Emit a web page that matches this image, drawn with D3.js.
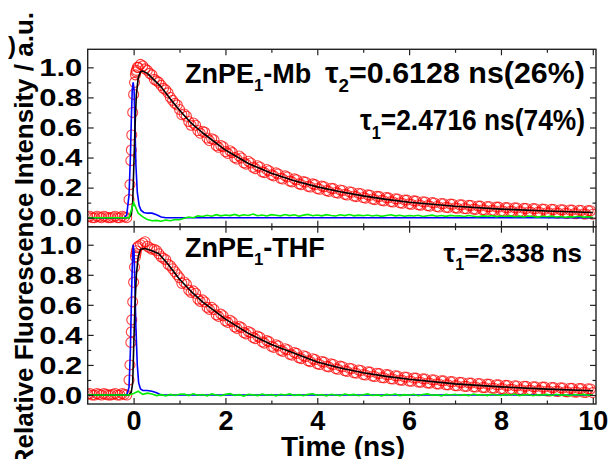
<!DOCTYPE html>
<html>
<head>
<meta charset="utf-8">
<script src="https://cdn.jsdelivr.net/npm/d3@7"></script>
<style>
body { margin: 0; background: #fff; }
text { font-family: "Liberation Sans", Arial, sans-serif; font-weight: bold; fill: #000; }
</style>
</head>
<body>
<div id="graph"></div>
<script>
// sample grids of the decay traces (ns)
var gridT = d3.range(111).map(i => Math.round((-1 + i / 10) * 100) / 100)     // -1.0 ... 10.0
var halfT = d3.range(110).map(i => Math.round((-0.95 + i / 10) * 100) / 100)  // -0.95 ... 9.95
var edgeT = [-0.08, -0.06, -0.04, -0.02, 0.02, 0.04, 0.06, 0.08]

// ZnPE1-Mb (top)
var redMb = [
  0.005, 0, 0.01, 0, 0.005, 0, 0.01, 0, 0.005, 0.12, 0.82,
  1.00, 1.01, 0.98, 0.95, 0.91, 0.88, 0.85, 0.80, 0.76, 0.72,
  0.69, 0.64, 0.63, 0.58, 0.575, 0.53, 0.525, 0.48, 0.48, 0.44,
  0.445, 0.40, 0.41, 0.365, 0.375, 0.335, 0.345, 0.305, 0.32, 0.285,
  0.298, 0.262, 0.278, 0.243, 0.258, 0.225, 0.24, 0.208, 0.225, 0.194,
  0.21, 0.18, 0.196, 0.167, 0.184, 0.155, 0.172, 0.144, 0.162, 0.134,
  0.152, 0.124, 0.142, 0.115, 0.134, 0.107, 0.126, 0.099, 0.118, 0.092,
  0.112, 0.086, 0.106, 0.08, 0.1, 0.074, 0.094, 0.069, 0.09, 0.065,
  0.086, 0.061, 0.082, 0.057, 0.078, 0.053, 0.074, 0.049, 0.07, 0.046,
  0.067, 0.043, 0.065, 0.04, 0.062, 0.038, 0.06, 0.035, 0.057, 0.033,
  0.055, 0.031, 0.053, 0.029, 0.051, 0.027, 0.049, 0.025, 0.047, 0.023
]
var redMbHalf = [
  0.01, 0, 0.005, 0.01, 0, 0.005, 0, 0.01, 0, 0.45,
  0.97, 1.02, 0.99, 0.96, 0.92, 0.90, 0.86, 0.83, 0.78, 0.75,
  0.685, 0.675, 0.615, 0.615, 0.562, 0.568, 0.513, 0.518, 0.468, 0.472,
  0.428, 0.433, 0.39, 0.397, 0.356, 0.364, 0.326, 0.337, 0.3, 0.312,
  0.278, 0.291, 0.257, 0.271, 0.238, 0.252, 0.22, 0.236, 0.204, 0.22,
  0.189, 0.206, 0.175, 0.193, 0.163, 0.181, 0.151, 0.169, 0.14, 0.159,
  0.13, 0.149, 0.12, 0.14, 0.112, 0.132, 0.104, 0.124, 0.096, 0.117,
  0.089, 0.11, 0.083, 0.104, 0.077, 0.098, 0.071, 0.093, 0.067, 0.089,
  0.063, 0.085, 0.059, 0.081, 0.055, 0.077, 0.051, 0.073, 0.047, 0.07,
  0.044, 0.066, 0.042, 0.064, 0.039, 0.061, 0.037, 0.059, 0.034, 0.056,
  0.032, 0.054, 0.03, 0.052, 0.028, 0.05, 0.026, 0.048, 0.024, 0.046
]
var edgeMb = [0.22, 0.38, 0.55, 0.7, 0.9, 0.95, 0.98, 1.0]
var greenMb = [
  0, 0, 0, 0, 0, 0, 0, 0, 0, 0, 0.10,
  0.03, 0.005, -0.012, -0.02, -0.018, -0.024, -0.016, -0.02, -0.012, -0.014,
  -0.004, 0.004, 0, 0.012, 0.008, 0.016, 0.01, 0.02, 0.012, 0.018,
  0.014, 0.022, 0.012, 0.019, 0.015, 0.024, 0.013, 0.018, 0.011, 0.02,
  0.016, 0.012, 0.021, 0.014, 0.019, 0.01, 0.017, 0.022, 0.013, 0.018,
  0.012, 0.02, 0.015, 0.011, 0.019, 0.014, 0.021, 0.012, 0.017, 0.013,
  0.018, 0.011, 0.016, 0.009, 0.015, 0.019, 0.012, 0.016, 0.01, 0.014,
  0.011, 0.016, 0.008, 0.013, 0.017, 0.01, 0.014, 0.009, 0.015, 0.011,
  0.013, 0.008, 0.014, 0.01, 0.006, 0.012, 0.009, 0.013, 0.007, 0.011,
  0.008, 0.012, 0.006, 0.01, 0.005, 0.011, 0.008, 0.004, 0.009, 0.006,
  0.01, 0.005, 0.008, 0.003, 0.007, 0.005, 0.009, 0.004, 0.006, 0.003
]
var fitMbT = [-1, -0.1, -0.05, -0.02, 0, 0.03, 0.06, 0.1, 0.15, 0.2, 0.3, 0.45, 0.6, 0.8, 1.0, 1.25, 1.5, 2.0, 2.5, 3.0, 3.5, 4.0, 4.5, 5.0, 5.5, 6.0, 7.0, 8.0, 9.0, 10.0]
var fitMb = [0, 0, 0.02, 0.1, 0.3, 0.6, 0.82, 0.93, 0.97, 0.975, 0.96, 0.915, 0.87, 0.79, 0.715, 0.63, 0.565, 0.45, 0.36, 0.295, 0.245, 0.205, 0.172, 0.145, 0.122, 0.103, 0.076, 0.057, 0.044, 0.034]
var irfMbT = [-1, -0.2, -0.15, -0.1, -0.07, -0.05, -0.03, -0.01, 0.01, 0.03, 0.05, 0.08, 0.12, 0.16, 0.22, 0.3, 0.4, 0.5, 0.6, 0.7, 10]
var irfMb = [0, 0, 0.02, 0.15, 0.4, 0.65, 0.85, 0.9, 0.85, 0.6, 0.35, 0.17, 0.08, 0.05, 0.035, 0.03, 0.03, 0.02, 0.005, 0, 0]

// ZnPE1-THF (bottom)
var redThf = [
  0.005, 0, 0.01, 0, 0.005, 0, 0.01, 0, 0.005, 0.1, 0.75,
  0.99, 1.01, 0.99, 0.97, 0.96, 0.92, 0.90, 0.86, 0.82, 0.78,
  0.752, 0.698, 0.693, 0.638, 0.633, 0.583, 0.583, 0.533, 0.538, 0.493,
  0.497, 0.453, 0.457, 0.416, 0.422, 0.383, 0.392, 0.353, 0.362, 0.324,
  0.334, 0.297, 0.308, 0.271, 0.283, 0.248, 0.261, 0.227, 0.241, 0.208,
  0.223, 0.191, 0.207, 0.175, 0.192, 0.161, 0.178, 0.148, 0.166, 0.136,
  0.155, 0.126, 0.145, 0.116, 0.136, 0.108, 0.128, 0.1, 0.12, 0.093,
  0.113, 0.086, 0.107, 0.08, 0.101, 0.074, 0.095, 0.068, 0.089, 0.062,
  0.084, 0.058, 0.08, 0.054, 0.076, 0.05, 0.072, 0.046, 0.068, 0.042,
  0.064, 0.038, 0.061, 0.035, 0.058, 0.032, 0.055, 0.029, 0.052, 0.027,
  0.05, 0.025, 0.047, 0.022, 0.045, 0.02, 0.043, 0.018, 0.041, 0.016
]
var redThfHalf = [
  0.01, 0, 0.005, 0.01, 0, 0.005, 0, 0.01, 0, 0.42,
  0.94, 1.0, 1.02, 0.98, 0.97, 0.94, 0.91, 0.87, 0.84, 0.80,
  0.743, 0.737, 0.683, 0.677, 0.623, 0.619, 0.57, 0.569, 0.523, 0.527,
  0.483, 0.487, 0.443, 0.448, 0.407, 0.414, 0.375, 0.384, 0.345, 0.355,
  0.317, 0.327, 0.29, 0.301, 0.265, 0.277, 0.242, 0.256, 0.222, 0.236,
  0.203, 0.219, 0.187, 0.203, 0.171, 0.188, 0.157, 0.175, 0.145, 0.163,
  0.133, 0.152, 0.123, 0.142, 0.114, 0.134, 0.106, 0.126, 0.098, 0.118,
  0.091, 0.112, 0.085, 0.106, 0.079, 0.1, 0.073, 0.094, 0.067, 0.088,
  0.061, 0.083, 0.057, 0.079, 0.053, 0.075, 0.049, 0.071, 0.045, 0.067,
  0.041, 0.063, 0.038, 0.06, 0.035, 0.057, 0.032, 0.054, 0.029, 0.052,
  0.026, 0.049, 0.024, 0.046, 0.021, 0.044, 0.019, 0.042, 0.017, 0.04
]
var edgeThf = [0.2, 0.35, 0.5, 0.62, 0.85, 0.92, 0.96, 0.98]
var greenThf = [
  0, 0, 0, 0, 0, 0, 0, 0, 0, 0, 0.01,
  0.025, 0.004, 0.012, 0.006, -0.004, 0.002, -0.006, 0.004, -0.003, 0.005,
  0.006, -0.004, 0.008, -0.002, 0.003, -0.006, 0.007, 0, -0.005, 0.004,
  0.009, -0.003, 0.002, -0.007, 0.005, 0.001, -0.004, 0.006, -0.002, 0.003,
  -0.006, 0.005, 0, 0.007, -0.003, 0.002, -0.005, 0.004, 0.008, -0.002,
  0.003, -0.006, 0.005, 0, -0.004, 0.006, -0.001, 0.004, -0.005, 0.002,
  0.007, -0.003, 0.001, -0.006, 0.004, 0, 0.006, -0.004, 0.002, -0.002,
  0.005, -0.005, 0.003, 0.007, -0.002, 0.001, -0.006, 0.004, 0, 0.005,
  -0.003, 0.002, -0.005, 0.006, -0.001, 0.003, -0.004, 0.005, 0, -0.003,
  0.004, -0.002, 0.006, -0.004, 0.001, 0.003, -0.005, 0.002, 0, 0.004,
  -0.003, 0.005, -0.001, 0.002, -0.004, 0.003, 0, 0.004, -0.002, 0.001
]
var fitThfT = [-1, -0.1, -0.05, -0.02, 0, 0.03, 0.06, 0.1, 0.15, 0.25, 0.4, 0.55, 0.75, 1.0, 1.25, 1.5, 2.0, 2.5, 3.0, 3.5, 4.0, 4.5, 5.0, 5.5, 6.0, 7.0, 8.0, 9.0, 10.0]
var fitThf = [0, 0, 0.02, 0.08, 0.3, 0.6, 0.8, 0.92, 0.97, 0.975, 0.96, 0.94, 0.87, 0.77, 0.69, 0.62, 0.505, 0.41, 0.336, 0.277, 0.22, 0.18, 0.148, 0.124, 0.105, 0.074, 0.054, 0.039, 0.028]
var irfThfT = [-1, -0.15, -0.1, -0.07, -0.05, -0.03, -0.01, 0.01, 0.03, 0.05, 0.08, 0.11, 0.15, 0.2, 0.3, 0.4, 0.5, 0.6, 10]
var irfThf = [0, 0, 0.05, 0.3, 0.6, 0.85, 1.0, 0.95, 0.7, 0.45, 0.2, 0.08, 0.04, 0.03, 0.03, 0.025, 0.015, 0, 0]

var xMajor = [0, 2, 4, 6, 8, 10]
var xMinor = [1, 3, 5, 7, 9]
var yMajor = [0, 0.2, 0.4, 0.6, 0.8, 1.0]
var yMinor = [0.1, 0.3, 0.5, 0.7, 0.9]

var width = 612, height = 459
var left = 87.7, right = 596
var svg = d3.select('#graph').append('svg')
  .attr('width', width).attr('height', height)

var x = d3.scaleLinear().domain([-1, 10.07]).range([left, right])

var panels = [
  {id: 'mb', top: 49.3, bottom: 226.7, red: redMb, half: redMbHalf, edge: edgeMb, green: greenMb,
   fitT: fitMbT, fit: fitMb, irfT: irfMbT, irf: irfMb, labels: false},
  {id: 'thf', top: 226.7, bottom: 404, red: redThf, half: redThfHalf, edge: edgeThf, green: greenThf,
   fitT: fitThfT, fit: fitThf, irfT: irfThfT, irf: irfThf, labels: true}
]

panels.forEach(p => {
  var y = d3.scaleLinear().domain([-0.06, 1.12]).range([p.bottom, p.top])
  var g = svg.append('g')

  g.append('clipPath').attr('id', 'clip-' + p.id)
    .append('rect')
    .attr('x', left).attr('y', p.top)
    .attr('width', right - left).attr('height', p.bottom - p.top)

  var plot = g.append('g').attr('clip-path', `url(#clip-${p.id})`)
  var line = d3.line().x(d => x(d[0])).y(d => y(d[1]))

  var pts = gridT.map((t, i) => [t, p.red[i]])
    .concat(halfT.map((t, i) => [t, p.half[i]]))
    .concat(edgeT.map((t, i) => [t, p.edge[i]]))

  plot.selectAll('circle').data(pts).join('circle')
    .attr('cx', d => x(d[0])).attr('cy', d => y(d[1])).attr('r', 5)
    .attr('fill', 'none').attr('stroke', '#ff0000')
    .attr('stroke-opacity', 0.75).attr('stroke-width', 1.1)

  plot.append('path')
    .attr('d', line(p.irfT.map((t, i) => [t, p.irf[i]])))
    .attr('fill', 'none').attr('stroke', '#0000ff').attr('stroke-width', 1.6)

  plot.append('path')
    .attr('d', line(p.fitT.map((t, i) => [t, p.fit[i]])))
    .attr('fill', 'none').attr('stroke', '#000').attr('stroke-width', 1.6)
    .attr('stroke-linejoin', 'round')

  plot.append('path')
    .attr('d', line(gridT.map((t, i) => [t, p.green[i]])))
    .attr('fill', 'none').attr('stroke', '#00ee00').attr('stroke-width', 1.6)

  // axes, all ticks pointing inward
  var ax = (axis, tr, vals, size, fmt) => {
    var a = g.append('g').attr('transform', tr)
      .call(axis.tickValues(vals).tickSize(size).tickPadding(4).tickFormat(fmt))
    a.select('.domain').remove()
    a.selectAll('line').attr('stroke', '#222').attr('stroke-width', 1.2)
    return a
  }
  var yl = ax(d3.axisLeft(y), `translate(${left},0)`, yMajor, -6, d3.format('.1f'))
  yl.selectAll('text').attr('font-size', 23).attr('dy', '0.36em')
    .attr('transform', 'scale(1.35,1)')
  ax(d3.axisLeft(y), `translate(${left},0)`, yMinor, -3.5, '')
  ax(d3.axisRight(y), `translate(${right},0)`, yMajor, -6, '')
  ax(d3.axisRight(y), `translate(${right},0)`, yMinor, -3.5, '')
  ax(d3.axisTop(x), `translate(0,${p.top})`, xMajor, -6, '')
  ax(d3.axisTop(x), `translate(0,${p.top})`, xMinor, -3.5, '')
  var xb = ax(d3.axisBottom(x), `translate(0,${p.bottom})`, xMajor, -6, p.labels ? d => d : '')
  ax(d3.axisBottom(x), `translate(0,${p.bottom})`, xMinor, -3.5, '')
  xb.selectAll('text').attr('font-size', 27).attr('y', 7).attr('dy', '0.71em')

  g.append('rect')
    .attr('x', left).attr('y', p.top)
    .attr('width', right - left).attr('height', p.bottom - p.top)
    .attr('fill', 'none').attr('stroke', '#222').attr('stroke-width', 1.4)
})

// annotations
function label(xp, yp, parts, size, opts) {
  opts = opts || {}
  var t = svg.append('text').attr('x', xp).attr('y', yp).attr('font-size', size)
    .attr('text-anchor', opts.anchor || 'start')
  parts.forEach(([s, sub]) => {
    t.append('tspan').text(s)
      .attr('font-size', sub ? size * 0.62 : size)
      .attr('dy', sub ? size * 0.3 : (t.node().childNodes.length > 1 ? -size * 0.3 : 0))
  })
  if (opts.len) t.attr('textLength', opts.len).attr('lengthAdjust', 'spacingAndGlyphs')
  return t
}
label(185, 83, [['ZnPE'], ['1', true], ['-Mb']], 27)
label(325, 83, [['τ'], ['2', true], ['=0.6128 ns(26%)']], 29, {len: 260})
label(360, 130, [['τ'], ['1', true], ['=2.4716 ns(74%)']], 29, {len: 225})
label(185, 257, [['ZnPE'], ['1', true], ['-THF']], 27)
label(582, 262, [['τ'], ['1', true], ['=2.338 ns']], 26, {anchor: 'end'})

svg.append('text').text('Time (ns)')
  .attr('x', 343).attr('y', 456).attr('text-anchor', 'middle').attr('font-size', 28)

svg.append('text').text('Relative Fluorescence Intensity / a.u.')
  .attr('transform', 'translate(33,12) rotate(-90)')
  .attr('text-anchor', 'end').attr('font-size', 26)

svg.append('text').text(')').attr('x', 8).attr('y', 54).attr('font-size', 24)
</script>
</body>
</html>
